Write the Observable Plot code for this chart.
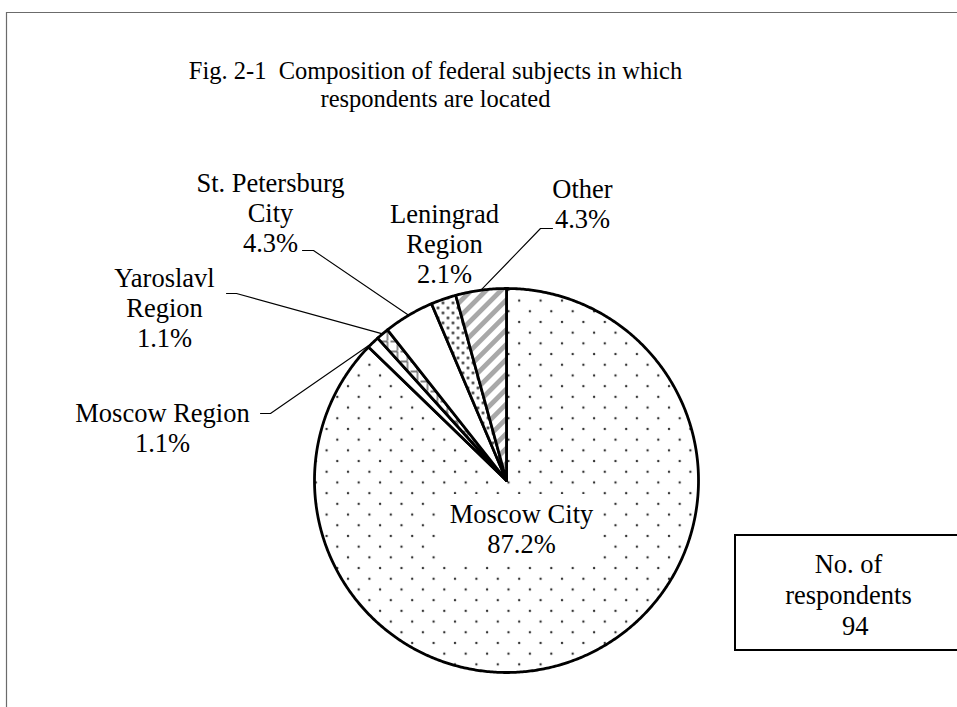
<!DOCTYPE html>
<html>
<head>
<meta charset="utf-8">
<script src="https://cdn.jsdelivr.net/npm/d3@7"></script>
<script src="https://cdn.jsdelivr.net/npm/@observablehq/plot@0.6"></script>
<style>
  html, body { margin: 0; padding: 0; background: #fff; }
  #chart { width: 957px; height: 707px; }
</style>
</head>
<body>
<div id="chart"></div>
<script>
// ---- data ----
const categories = ["Moscow City", "Moscow Region", "Yaroslavl Region", "St. Petersburg City", "Leningrad Region", "Other"];
const counts = [82, 1, 1, 4, 2, 4];
const percentLabels = ["87.2%", "1.1%", "1.1%", "4.3%", "2.1%", "4.3%"];
const respondents = 94;
const titleLines = ["Fig. 2-1  Composition of federal subjects in which", "respondents are located"];
const boxLines = ["No. of", "respondents", "  " + respondents];

// ---- layout ----
const W = 957, H = 707;
const cx = 506, cy = 480, R = 192;
const patterns = ["url(#pMC)", "#ffffff", "url(#pYR)", "#ffffff", "url(#pLR)", "url(#pOT)"];
const labelLayout = [
  {x: 521, y: 528, wrap: false},
  {x: 162, y: 427, wrap: false},
  {x: 164, y: 307, wrap: true},
  {x: 270, y: 212, wrap: true},
  {x: 444, y: 243, wrap: true},
  {x: 582, y: 203, wrap: false}
];
const leaderTicks = [null, [[260, 413], [270, 413]], [[226, 293], [236, 293]], [[302, 250], [313, 250]], null, [[552, 228], [540, 228]]];

// ---- geometry from data ----
const arcs = d3.pie().sort(null).value(d => d)(counts);
const polar = (a, r) => [cx + r * Math.sin(a), cy - r * Math.cos(a)];
const wedges = arcs.map((a, i) => {
  const pts = [[cx, cy]];
  const n = Math.max(2, Math.ceil((a.endAngle - a.startAngle) / (Math.PI / 360)));
  for (let k = 0; k <= n; k++) pts.push(polar(a.startAngle + (a.endAngle - a.startAngle) * k / n, R));
  pts.push([cx, cy]);
  return pts.map(([x, y]) => ({i, x, y}));
});
const leaders = [];
arcs.forEach((a, i) => {
  if (!leaderTicks[i]) return;
  const mid = (a.startAngle + a.endAngle) / 2;
  const pts = [...leaderTicks[i], polar(mid, R)];
  pts.forEach(([x, y]) => leaders.push({i, x, y}));
});
const labels = categories.map((c, i) => {
  const L = labelLayout[i];
  const name = L.wrap ? c.replace(/ (\S+)$/, "\n$1") : c;
  return {x: L.x, y: L.y, text: name + "\n" + percentLabels[i]};
});

const serif = "'Liberation Serif', 'Times New Roman', serif";
const font = {fontFamily: serif, fontSize: 26.5, fill: "#000"};

const plot = Plot.plot({
  width: W, height: H,
  margin: 0,
  x: {domain: [0, W], range: [0, W], axis: null},
  y: {domain: [0, H], range: [0, H], axis: null},
  style: {background: "#fff", fontFamily: serif},
  marks: [
    // outer page frame (top and left)
    Plot.ruleY([12], {x1: 6, x2: W, stroke: "#6b6b6b", strokeWidth: 1.2}),
    Plot.ruleX([6], {y1: 12, y2: H, stroke: "#6b6b6b", strokeWidth: 1.2}),
    // wedges
    ...wedges.map((w, i) => Plot.line(w, {x: "x", y: "y", fill: patterns[i], stroke: "#000", strokeWidth: 2.8, strokeLinejoin: "round", curve: "linear"})),
    // white backdrop behind Moscow City label
    Plot.rect([labels[0]], {x1: d => d.x - 80, x2: d => d.x + 80, y1: d => d.y - 34, y2: d => d.y + 32, fill: "#fff"}),
    // leader lines
    Plot.line(leaders, {x: "x", y: "y", z: "i", stroke: "#000", strokeWidth: 1.1}),
    // labels
    Plot.text(labels, {x: "x", y: "y", text: "text", lineHeight: 30 / 26.5, lineAnchor: "middle", textAnchor: "middle", ...font}),
    // title
    Plot.text([titleLines.join("\n")], {x: 435, y: 84, text: d => d, lineHeight: 28 / 24.5, lineAnchor: "middle", textAnchor: "middle", fontFamily: serif, fontSize: 24.5, fill: "#000"}),
    // respondents box
    Plot.rect([0], {x1: 735, x2: W + 5, y1: 535, y2: 650, fill: "#fff", stroke: "#000", strokeWidth: 2}),
    Plot.text([boxLines.join("\n")], {x: 848, y: 594, text: d => d, lineHeight: 31 / 26.5, lineAnchor: "middle", textAnchor: "middle", ...font})
  ]
});

const svg = d3.select(plot);
svg.insert("defs", ":first-child").html(`
  <pattern id="pMC" patternUnits="userSpaceOnUse" width="21.4" height="21.4" x="${cx}" y="${cy}">
    <rect width="21.4" height="21.4" fill="#fff"/>
    <circle cx="2" cy="2" r="1.2" fill="#333"/>
    <circle cx="12.7" cy="12.7" r="1.2" fill="#333"/>
  </pattern>
  <pattern id="pLR" patternUnits="userSpaceOnUse" width="10" height="10">
    <rect width="10" height="10" fill="#fff"/>
    <circle cx="2.5" cy="2.5" r="1.4" fill="#333"/>
    <circle cx="7.5" cy="7.5" r="1.4" fill="#333"/>
  </pattern>
  <pattern id="pOT" patternUnits="userSpaceOnUse" width="10.5" height="10.5" patternTransform="rotate(45)">
    <rect width="10.5" height="10.5" fill="#fff"/>
    <rect x="0" width="4.8" height="10.5" fill="#a8a8a8"/>
  </pattern>
  <pattern id="pYR" patternUnits="userSpaceOnUse" width="10" height="10">
    <rect width="10" height="10" fill="#fff"/>
    <path d="M0,1 H7 M7,1 V10" stroke="#555" stroke-width="1.3" fill="none"/>
  </pattern>
`);
// ensure pattern fills applied to wedge paths
const lineGroups = plot.querySelectorAll('g[aria-label="line"]');
lineGroups.forEach((g, k) => {
  if (k < patterns.length) {
    g.setAttribute("fill", patterns[k]);
    g.querySelectorAll("path").forEach(p => p.setAttribute("fill", patterns[k]));
  }
});
document.getElementById("chart").appendChild(plot);
</script>
</body>
</html>
